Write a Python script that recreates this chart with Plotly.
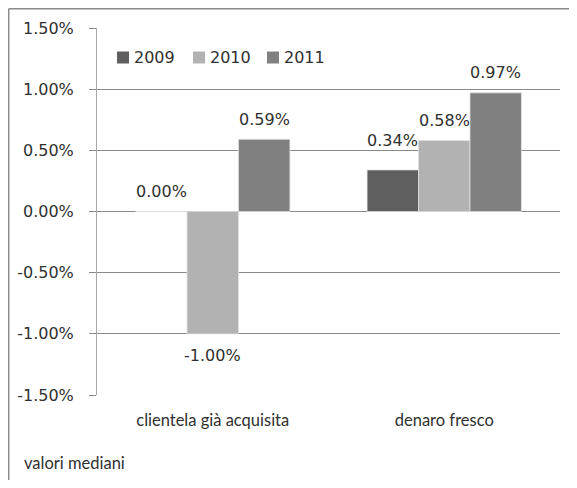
import plotly.graph_objects as go

categories = ["clientela già acquisita", "denaro fresco"]
years = ["2009", "2010", "2011"]
values_2009 = [0.0, 0.0034]
values_2010 = [-0.01, 0.0058]
values_2011 = [0.0059, 0.0097]
colors = ["#5f5f5f", "#b2b2b2", "#808080"]
tick_vals = [-0.015, -0.01, -0.005, 0.0, 0.005, 0.01, 0.015]
tick_text = ["-1.50%", "-1.00%", "-0.50%", "0.00%", "0.50%", "1.00%", "1.50%"]

# page body has an 8px margin; figure origin sits at page (8, 8)
OFF = 8
W, H = 577 - 2 * OFF, 488 - 2 * OFF
L, T = 97 - OFF, 28 - OFF
R = W - (560 - OFF)
B = H - (395 - OFF)
pw, ph = W - L - R, H - T - B

def px(x):
    return (x - OFF - L) / pw

def py(y):
    return (H - B - (y - OFF)) / ph

TXT = "#303030"
label_font = dict(family="DejaVu Sans", size=16, color=TXT)

bargap = 1 / 3
bar_px = pw / len(categories) * (1 - bargap) / len(years)

fig = go.Figure()
series = [values_2009, values_2010, values_2011]
for name, vals, col in zip(years, series, colors):
    fig.add_trace(go.Bar(
        name=name, x=categories, y=vals,
        marker=dict(color=col, line=dict(color="#e0e0e0", width=0.8)),
        showlegend=False,
    ))

# data labels
extra_shift = {("2009", 1): 9}
for i, (name, vals) in enumerate(zip(years, series)):
    for j, (cat, v) in enumerate(zip(categories, vals)):
        up = v >= 0
        sh = 20 + extra_shift.get((name, j), 0)
        fig.add_annotation(
            x=cat, y=v, xref="x", yref="y", text=f"{v:.2%}",
            showarrow=False, xshift=(i - 1) * bar_px,
            yshift=sh if up else -22, yanchor="middle",
            font=label_font,
        )

# legend (manual, to match compact Excel-style spacing)
leg_x = [117, 193, 267]
for name, col, x0 in zip(years, colors, leg_x):
    fig.add_shape(type="rect", xref="paper", yref="paper",
                  x0=px(x0), x1=px(x0 + 12), y0=py(51.5), y1=py(63.5),
                  fillcolor=col, line=dict(width=0))
    fig.add_annotation(text=name, xref="paper", yref="paper",
                       x=px(x0 + 15), y=py(57.5), xanchor="left", yanchor="middle",
                       showarrow=False, font=label_font)

fig.update_layout(
    width=W, height=H,
    margin=dict(l=L, r=R, t=T, b=B, autoexpand=False),
    paper_bgcolor="white", plot_bgcolor="white",
    barmode="group", bargap=bargap, bargroupgap=0,
    showlegend=False,
    xaxis=dict(showgrid=False, showline=False, ticks="",
               tickfont=dict(family="Lato", size=16.5, color=TXT),
               ticklabelstandoff=13),
    yaxis=dict(range=[-0.015, 0.015], tickvals=tick_vals, ticktext=tick_text,
               showgrid=True, gridcolor="#8a8a8a", gridwidth=1,
               zeroline=True, zerolinecolor="#8a8a8a", zerolinewidth=1,
               showline=True, linecolor="#a8a8a8", linewidth=1,
               ticks="outside", ticklen=7, tickcolor="#8a8a8a",
               tickfont=label_font, ticklabelstandoff=12),
)

# chart frame (top and left borders)
fig.add_shape(type="line", xref="paper", yref="paper",
              x0=px(8.7), x1=px(600), y0=py(8.8), y1=py(8.8),
              line=dict(color="#8a8a8a", width=1.5))
fig.add_shape(type="line", xref="paper", yref="paper",
              x0=px(8.7), x1=px(8.7), y0=py(8.8), y1=py(600),
              line=dict(color="#8a8a8a", width=1.5))

fig.add_annotation(text="valori mediani", xref="paper", yref="paper",
                   x=px(22), y=py(463), xanchor="left", yanchor="middle",
                   showarrow=False, font=dict(family="Lato", size=16.5, color=TXT))

fig.write_html("out.html")
